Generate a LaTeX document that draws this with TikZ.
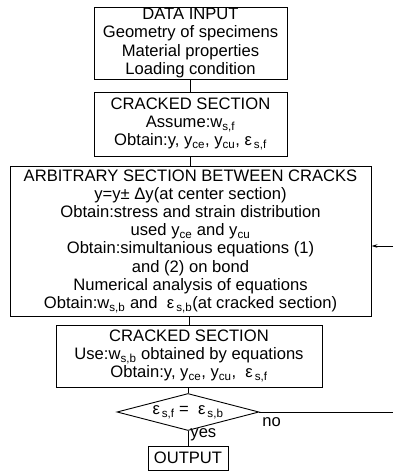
\documentclass[tikz,border=0pt]{standalone}
\usepackage{fontspec}
\setmainfont{Liberation Sans}
\usetikzlibrary{shapes.geometric,arrows.meta}
\newcommand{\epsub}[1]{ε\textsubscript{\,#1}}
\newcommand{\ysub}[1]{y\textsubscript{#1}}

\begin{document}
\begin{tikzpicture}[x=1pt,y=1pt,line width=0.9pt]
\tikzstyle{every node}+=[font=\fontsize{16.6}{18.2}\selectfont]
\tikzstyle{box}=[draw,rectangle,align=center,inner sep=0pt]
\tikzstyle{test}=[draw,diamond,aspect=3.8,inner sep=0pt,minimum width=142pt,minimum height=37pt]
\useasboundingbox (0,0) rectangle (393,-473);
\node [box,minimum width=193pt,minimum height=72pt] (input) at (190.5,-43) {DATA INPUT\\Geometry of specimens\\Material properties\\Loading condition};
\node [box,minimum width=193pt,minimum height=64pt] (crackA) at (190.5,-124) {CRACKED SECTION\\Assume:w\textsubscript{s,f}\\Obtain:y, \ysub{ce}, \ysub{cu}, \epsub{s,f}};
\node [box,minimum width=361pt,minimum height=150pt] (between) at (190.5,-241) {ARBITRARY SECTION BETWEEN CRACKS\\y=y± Δy(at center section)\\Obtain:stress and strain distribution\\used \ysub{ce} and \ysub{cu}\\Obtain:simultanious equations (1)\\and (2) on bond\\Numerical analysis of equations\\Obtain:w\textsubscript{s,b} and \ \epsub{s,b}(at cracked section)};
\node [box,minimum width=266pt,minimum height=62pt] (crackB) at (189,-356) {CRACKED SECTION\\Use:w\textsubscript{s,b} obtained by equations\\Obtain:y, \ysub{ce}, \ysub{cu}, \ \epsub{s,f}};
\node [test] (check) at (188,-412) {\epsub{s,f} = \ \epsub{s,b}};
\node [box,minimum width=80pt,minimum height=24pt] (output) at (188,-458) {OUTPUT};
\coordinate (noend) at (393,-412);
\coordinate (back) at (393,-246);
\draw (input) -- (crackA);
\draw (crackA) -- (between);
\draw (between.south -| crackB.north) -- (crackB);
\draw (crackB.south -| check.north) -- (check);
\draw (check) -- (output);
\draw (check.east) -- (noend);
\draw [-{Stealth[length=6pt,width=3.5pt]}] (back) -- (between.east |- back);
\node [anchor=west,inner sep=1pt] (yes) at (189,-435) {yes};
\node [anchor=west,inner sep=1pt] (no) at (261,-422) {no};
\end{tikzpicture}
\end{document}
